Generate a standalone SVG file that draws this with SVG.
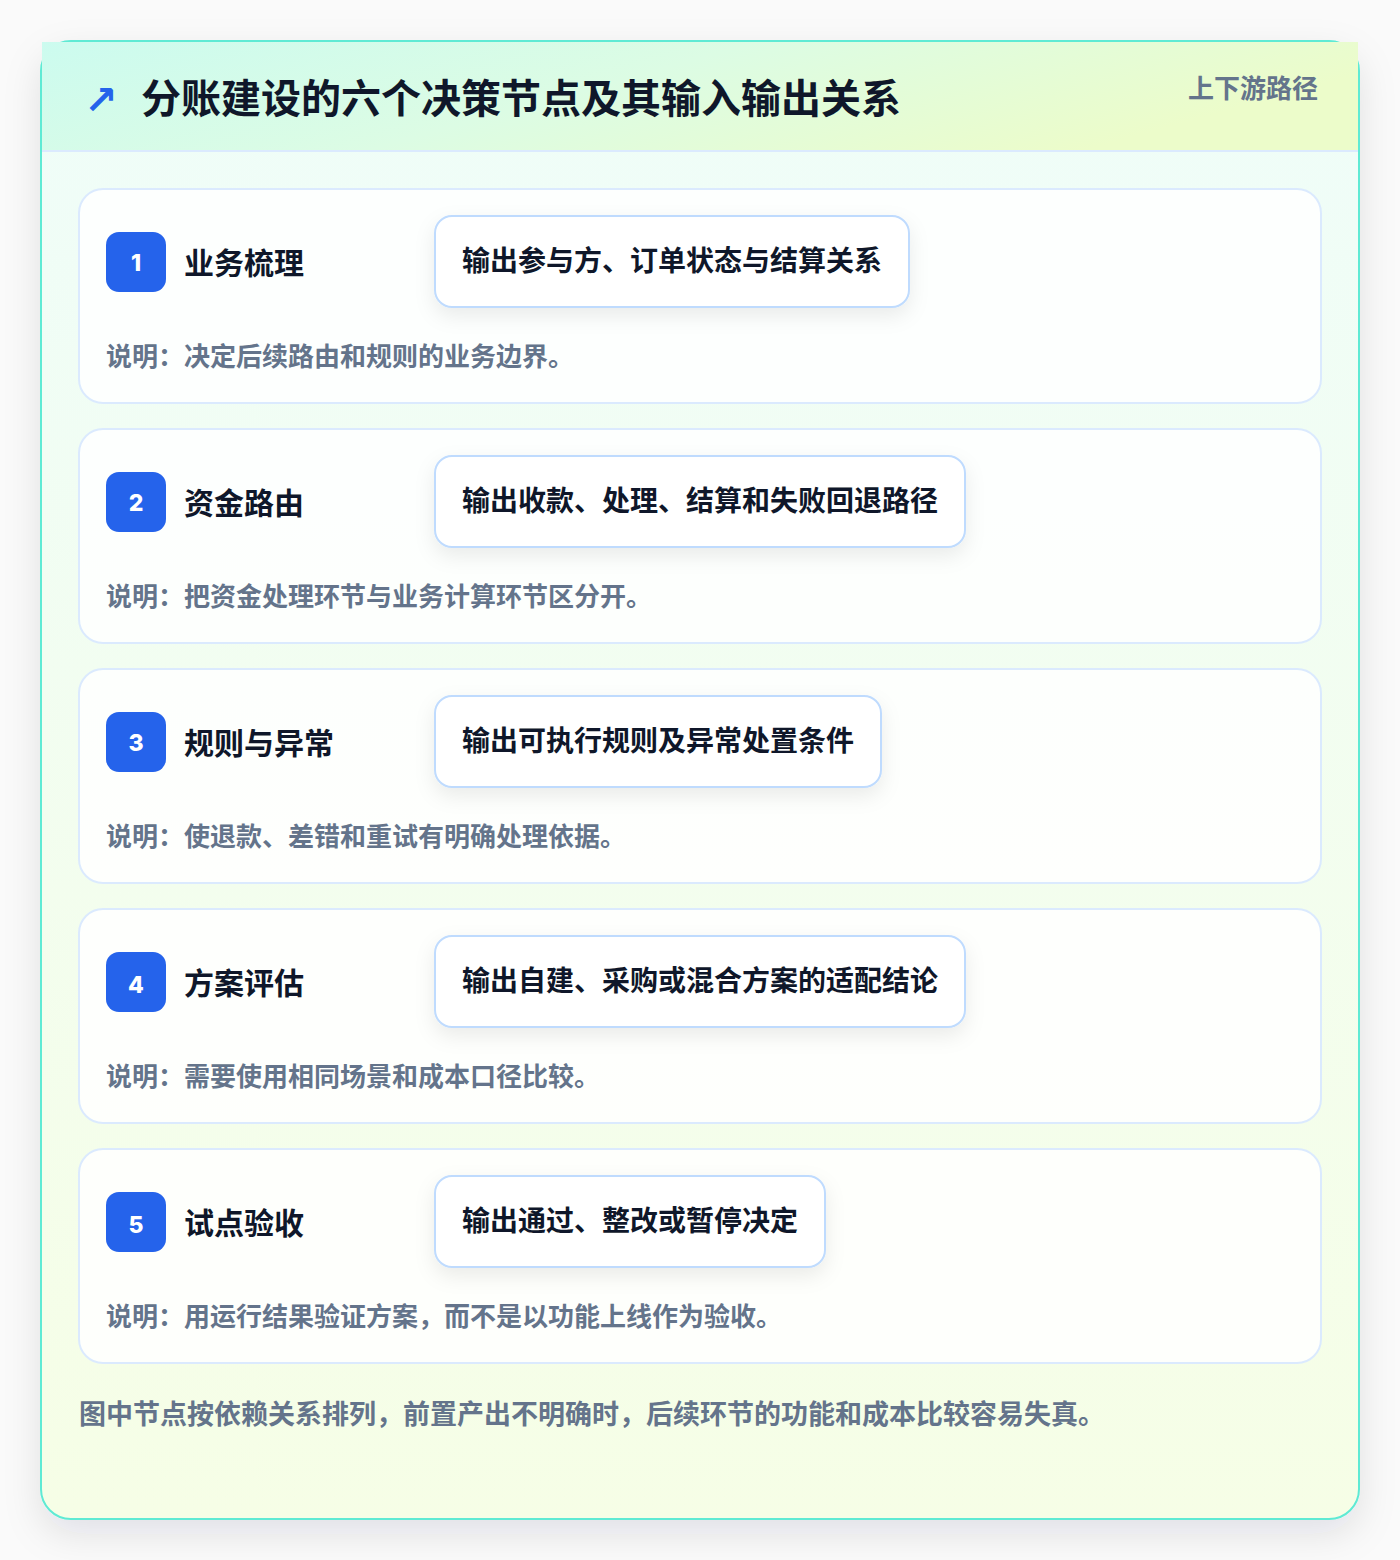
<svg xmlns="http://www.w3.org/2000/svg" width="1400" height="1560" viewBox="0 0 1400 1560">
  <defs>
    <linearGradient id="hdr" x1="0" y1="0" x2="1" y2="0.3">
      <stop offset="0" stop-color="#ccfbef"/>
      <stop offset="0.5" stop-color="#dcfce4"/>
      <stop offset="1" stop-color="#ecfcca"/>
    </linearGradient>
    <linearGradient id="body" x1="0" y1="0" x2="0" y2="1">
      <stop offset="0" stop-color="#effdf9"/>
      <stop offset="1" stop-color="#f6fee6"/>
    </linearGradient>
    <filter id="outerShadow" x="-10%" y="-10%" width="120%" height="120%">
      <feDropShadow dx="0" dy="14" stdDeviation="18" flood-color="#0f172a" flood-opacity="0.10"/>
    </filter>
    <filter id="boxShadow" x="-20%" y="-40%" width="140%" height="190%">
      <feDropShadow dx="0" dy="8" stdDeviation="10" flood-color="#0f172a" flood-opacity="0.08"/>
    </filter>
  </defs>
  <style>
    .card { fill: #ffffff; fill-opacity: 0.86; stroke: #dbeafe; stroke-width: 2; }
    .badge { fill: #2563eb; }
    .num { font-family: Inter, "Liberation Sans", sans-serif; font-weight: 800; font-size: 23px; fill: #ffffff; text-anchor: middle; }
    .ttl { font-family: "Noto Sans CJK SC", sans-serif; font-weight: 700; font-size: 30px; fill: #0f172a; }
    .obox { fill: #ffffff; stroke: #bfdbfe; stroke-width: 2; }
    .otx { font-family: "Noto Sans CJK SC", sans-serif; font-weight: 700; font-size: 28px; fill: #0f172a; }
    .desc { font-family: "Noto Sans CJK SC", sans-serif; font-weight: 700; font-size: 26px; fill: #64748b; }
    .foot { font-family: "Noto Sans CJK SC", sans-serif; font-weight: 700; font-size: 27px; fill: #64748b; }
  </style>
  <rect x="0" y="0" width="1400" height="1560" fill="#fafafa"/>
  <g id="frame">
    <rect x="41" y="41" width="1318" height="1478" rx="30" fill="url(#body)" stroke="#5eead4" stroke-width="2" filter="url(#outerShadow)"/>
    <rect x="42" y="42" width="1316" height="109" fill="url(#hdr)"/>
    <line x1="42" y1="151" x2="1358" y2="151" stroke="#dbeafe" stroke-width="2"/>
    <text x="84" y="114" font-family="'DejaVu Sans', sans-serif" font-size="40" font-weight="700" fill="#2563eb">↗</text>
    <text x="141" y="113" font-family="'Noto Sans CJK SC', sans-serif" font-weight="700" font-size="40" fill="#0f172a">分账建设的六个决策节点及其输入输出关系</text>
    <text x="1318" y="98" text-anchor="end" font-family="'Noto Sans CJK SC', sans-serif" font-weight="700" font-size="26" fill="#64748b">上下游路径</text>
  </g>
  <g id="connectors"></g>
  <g id="node1">
    <rect class="card" x="79" y="189" width="1242" height="214" rx="24"/>
    <rect class="badge" x="106" y="232" width="60" height="60" rx="13"/>
    <text class="num" x="136" y="271">1</text>
    <text class="ttl" x="184" y="274">业务梳理</text>
    <rect class="obox" x="435" y="216" width="474" height="91" rx="17" filter="url(#boxShadow)"/>
    <text class="otx" x="462" y="271">输出参与方、订单状态与结算关系</text>
    <text class="desc" x="106" y="366">说明：决定后续路由和规则的业务边界。</text>
  </g>
  <g id="node2">
    <rect class="card" x="79" y="429" width="1242" height="214" rx="24"/>
    <rect class="badge" x="106" y="472" width="60" height="60" rx="13"/>
    <text class="num" x="136" y="511">2</text>
    <text class="ttl" x="184" y="514">资金路由</text>
    <rect class="obox" x="435" y="456" width="530" height="91" rx="17" filter="url(#boxShadow)"/>
    <text class="otx" x="462" y="511">输出收款、处理、结算和失败回退路径</text>
    <text class="desc" x="106" y="606">说明：把资金处理环节与业务计算环节区分开。</text>
  </g>
  <g id="node3">
    <rect class="card" x="79" y="669" width="1242" height="214" rx="24"/>
    <rect class="badge" x="106" y="712" width="60" height="60" rx="13"/>
    <text class="num" x="136" y="751">3</text>
    <text class="ttl" x="184" y="754">规则与异常</text>
    <rect class="obox" x="435" y="696" width="446" height="91" rx="17" filter="url(#boxShadow)"/>
    <text class="otx" x="462" y="751">输出可执行规则及异常处置条件</text>
    <text class="desc" x="106" y="846">说明：使退款、差错和重试有明确处理依据。</text>
  </g>
  <g id="node4">
    <rect class="card" x="79" y="909" width="1242" height="214" rx="24"/>
    <rect class="badge" x="106" y="952" width="60" height="60" rx="13"/>
    <text class="num" x="136" y="993">4</text>
    <text class="ttl" x="184" y="994">方案评估</text>
    <rect class="obox" x="435" y="936" width="530" height="91" rx="17" filter="url(#boxShadow)"/>
    <text class="otx" x="462" y="991">输出自建、采购或混合方案的适配结论</text>
    <text class="desc" x="106" y="1086">说明：需要使用相同场景和成本口径比较。</text>
  </g>
  <g id="node5">
    <rect class="card" x="79" y="1149" width="1242" height="214" rx="24"/>
    <rect class="badge" x="106" y="1192" width="60" height="60" rx="13"/>
    <text class="num" x="136" y="1233">5</text>
    <text class="ttl" x="184" y="1234">试点验收</text>
    <rect class="obox" x="435" y="1176" width="390" height="91" rx="17" filter="url(#boxShadow)"/>
    <text class="otx" x="462" y="1231">输出通过、整改或暂停决定</text>
    <text class="desc" x="106" y="1326">说明：用运行结果验证方案，而不是以功能上线作为验收。</text>
  </g>
  <g id="footer">
    <text class="foot" x="79" y="1424">图中节点按依赖关系排列，前置产出不明确时，后续环节的功能和成本比较容易失真。</text>
  </g>
</svg>
